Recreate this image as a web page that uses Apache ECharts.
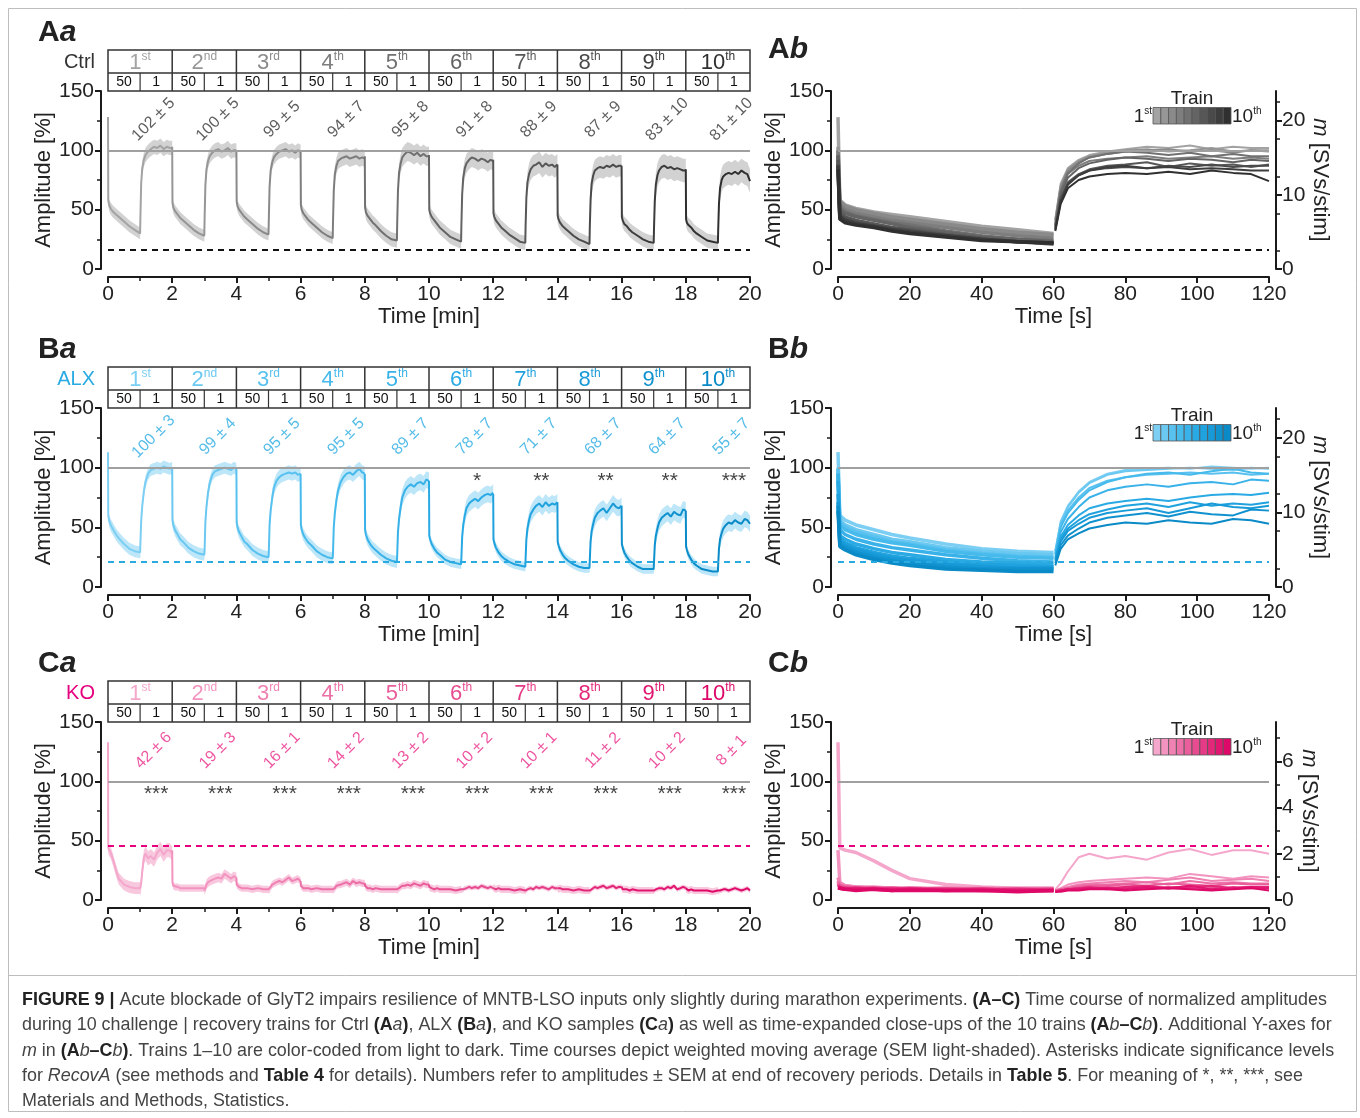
<!DOCTYPE html>
<html><head><meta charset="utf-8">
<script src="https://cdn.jsdelivr.net/npm/echarts/dist/echarts.min.js"></script>
<style>html,body{margin:0;padding:0;background:#fff}#c{width:1360px;height:1118px}</style>
</head><body><div id="c"></div><script>
// ---------------- DATA ----------------
const trainNums = ['1','2','3','4','5','6','7','8','9','10'];
const trainSuffix = ['st','nd','rd','th','th','th','th','th','th','th'];
// sample times within each train (s): challenge 50 Hz, recovery 1 Hz
const chalTimes = [0, 0.5, 2, 5, 10, 15, 20, 30, 40, 50, 60];
const recTimes = [60.5, 62, 64, 67, 70, 75, 80, 86, 92, 98, 104, 110, 115, 120];

// Ctrl
const ctrlChal = [
 [128, 58, 54, 51, 48, 46, 44, 40, 36, 33, 30],
 [103, 56, 52, 49, 46, 43, 41, 37, 33, 30, 28],
 [100, 57, 53, 50, 47, 44, 42, 38, 34, 31, 29],
 [100, 54, 50, 47, 44, 41, 39, 35, 31, 28, 26],
 [95, 52, 48, 45, 42, 39, 37, 32, 28, 25, 24],
 [96, 50, 47, 44, 41, 38, 35, 31, 27, 25, 23],
 [92, 47, 44, 41, 38, 35, 33, 29, 26, 23, 22],
 [88, 45, 42, 39, 36, 34, 32, 28, 25, 23, 21],
 [87, 44, 41, 38, 36, 33, 31, 28, 25, 23, 22],
 [84, 42, 39, 37, 35, 32, 30, 27, 24, 23, 22]];
const ctrlRec = [
 [42, 72, 85, 92, 96, 99, 101, 103, 102, 104, 101, 103, 102, 102],
 [41, 70, 84, 91, 95, 98, 100, 101, 99, 100, 102, 99, 100, 100],
 [40, 69, 83, 90, 94, 97, 99, 100, 101, 99, 100, 98, 100, 99],
 [38, 66, 80, 87, 91, 93, 94, 95, 93, 94, 95, 93, 94, 93],
 [37, 66, 81, 89, 94, 97, 99, 98, 96, 98, 95, 97, 95, 95],
 [36, 63, 77, 85, 89, 92, 94, 93, 91, 93, 92, 90, 92, 91],
 [35, 60, 73, 80, 84, 87, 88, 90, 86, 89, 87, 88, 86, 88],
 [34, 58, 72, 79, 83, 85, 86, 85, 87, 86, 88, 86, 87, 87],
 [33, 57, 71, 79, 83, 86, 87, 85, 86, 84, 85, 84, 83, 83],
 [32, 55, 68, 75, 78, 80, 81, 80, 82, 80, 83, 81, 80, 74]];
const ctrlChalSem = [5, 5, 5, 5, 6, 6, 6, 6, 6, 6];
const ctrlRecSem = [6, 6, 6, 7, 8, 8, 9, 9, 10, 10];
const ctrlEndMean = [102, 100, 99, 94, 95, 91, 88, 87, 83, 81];
const ctrlEndSem = [5, 5, 5, 7, 8, 8, 9, 9, 10, 10];
const ctrlSig = ['', '', '', '', '', '', '', '', '', ''];
const ctrlDashLevel = 16;

// ALX
const alxChal = [
 [113, 60, 56, 52, 48, 44, 41, 36, 32, 30, 29],
 [100, 56, 52, 48, 44, 40, 38, 33, 30, 28, 27],
 [99, 54, 50, 46, 42, 38, 36, 31, 28, 26, 25],
 [95, 52, 48, 44, 40, 37, 35, 30, 27, 25, 24],
 [95, 48, 44, 40, 36, 33, 31, 27, 24, 22, 21],
 [89, 43, 40, 36, 32, 29, 27, 23, 21, 20, 19],
 [78, 40, 37, 33, 29, 26, 24, 21, 19, 18, 17],
 [71, 38, 35, 31, 27, 24, 22, 19, 17, 16, 16],
 [68, 36, 33, 29, 25, 22, 20, 17, 15, 15, 15],
 [64, 34, 31, 27, 23, 20, 18, 15, 14, 13, 13]];
const alxRec = [
 [30, 55, 68, 80, 88, 95, 98, 99, 100, 99, 101, 100, 99, 100],
 [30, 54, 67, 79, 87, 94, 97, 98, 99, 100, 99, 98, 100, 99],
 [28, 52, 64, 75, 83, 89, 92, 94, 95, 96, 95, 96, 94, 95],
 [28, 50, 62, 73, 81, 88, 92, 95, 96, 94, 97, 99, 96, 95],
 [26, 46, 57, 67, 75, 81, 84, 86, 84, 87, 88, 86, 90, 89],
 [24, 42, 52, 60, 66, 70, 72, 74, 72, 75, 77, 78, 77, 79],
 [23, 40, 49, 56, 61, 65, 68, 70, 67, 71, 68, 70, 69, 71],
 [22, 38, 47, 53, 58, 62, 64, 66, 62, 66, 70, 67, 66, 68],
 [20, 35, 43, 49, 54, 58, 60, 62, 59, 63, 61, 60, 65, 64],
 [18, 32, 40, 45, 49, 52, 54, 53, 56, 54, 53, 57, 56, 53]];
const alxChalSem = [5, 5, 5, 5, 5, 4, 4, 4, 4, 4];
const alxRecSem = [5, 5, 6, 6, 7, 7, 7, 7, 7, 7];
const alxEndMean = [100, 99, 95, 95, 89, 78, 71, 68, 64, 55];
const alxEndSem = [3, 4, 5, 5, 7, 7, 7, 7, 7, 7];
const alxSig = ['', '', '', '', '', '*', '**', '**', '**', '***'];
const alxDashLevel = 21;

// KO
const koChal = [
 [133, 44, 42, 40, 33, 25, 18, 13, 11, 10, 10],
 [42, 15, 12, 11, 11, 10, 10, 10, 10, 10, 10],
 [19, 13, 12, 11, 10, 10, 10, 9, 10, 9, 9],
 [16, 12, 11, 10, 10, 10, 9, 10, 9, 9, 9],
 [14, 12, 11, 10, 10, 9, 10, 9, 9, 9, 9],
 [13, 11, 10, 10, 9, 10, 9, 9, 9, 8, 9],
 [10, 10, 10, 9, 10, 9, 9, 9, 8, 9, 8],
 [10, 10, 9, 10, 9, 9, 9, 8, 9, 8, 8],
 [11, 10, 9, 9, 9, 8, 9, 8, 8, 8, 8],
 [10, 9, 9, 8, 9, 8, 8, 8, 8, 7, 8]];
const koRec = [
 [9, 14, 24, 36, 39, 35, 37, 34, 40, 43, 38, 42, 42, 39],
 [8, 10, 13, 15, 16, 17, 18, 19, 18, 22, 20, 18, 20, 19],
 [8, 9, 11, 13, 14, 15, 16, 15, 17, 19, 16, 17, 18, 16],
 [8, 9, 10, 12, 13, 13, 14, 15, 13, 16, 14, 15, 14, 14],
 [8, 9, 10, 11, 12, 12, 13, 12, 14, 13, 12, 14, 13, 13],
 [8, 8, 9, 10, 10, 11, 10, 11, 10, 12, 11, 10, 11, 10],
 [7, 8, 9, 10, 10, 9, 11, 10, 11, 10, 9, 11, 10, 10],
 [7, 8, 9, 10, 11, 10, 11, 12, 10, 11, 12, 10, 11, 11],
 [7, 8, 9, 9, 10, 10, 9, 11, 10, 12, 9, 10, 11, 10],
 [7, 7, 8, 8, 9, 9, 8, 9, 10, 9, 8, 9, 10, 8]];
const koChalSem = [5, 3, 3, 3, 3, 3, 3, 3, 3, 3];
const koRecSem = [6, 4, 3, 3, 3, 2, 2, 2, 2, 2];
const koEndMean = [42, 19, 16, 14, 13, 10, 10, 11, 10, 8];
const koEndSem = [6, 3, 1, 2, 2, 2, 1, 2, 2, 1];
const koSig = ['***', '***', '***', '***', '***', '***', '***', '***', '***', '***'];
const koDashLevel = 46;

// right axis (m) ranges and ticks
const mMaxAB = 24, mTicksAB = [0, 10, 20];
const mMaxC = 7.7, mTicksC = [0, 2, 4, 6];

// ---------------- STYLE ----------------
const FONT = '"Liberation Sans", Arial, Helvetica, sans-serif';
const AX = '#1a1a1a';
const ctrlColors = ['#a3a3a3','#969696','#8a8a8a','#7e7e7e','#717171','#646464','#575757','#4a4a4a','#3d3d3d','#303030'];
const alxColors = ['#7ccff3','#6ac8f1','#58c1ef','#47baec','#38b2e8','#2aaae4','#1fa2de','#179ad7','#1092cf','#0a8ac6'];
const koColors = ['#f4a6cb','#f294bf','#ef82b3','#ec70a7','#e95e9b','#e74c90','#e53a85','#e3287a','#e11670','#de0868'];

const conds = [
 {name:'Ctrl', nameColor:'#333', chal:ctrlChal, rec:ctrlRec, chalSem:ctrlChalSem, recSem:ctrlRecSem,
  endMean:ctrlEndMean, endSem:ctrlEndSem, sig:ctrlSig, dash:ctrlDashLevel, dashColor:'#111',
  colors:ctrlColors, band:'#d2d2d2', annColor:'#333', mMax:mMaxAB, mTicks:mTicksAB},
 {name:'ALX', nameColor:'#29abe2', chal:alxChal, rec:alxRec, chalSem:alxChalSem, recSem:alxRecSem,
  endMean:alxEndMean, endSem:alxEndSem, sig:alxSig, dash:alxDashLevel, dashColor:'#29abe2',
  colors:alxColors, band:'#bde6f8', annColor:'#29abe2', mMax:mMaxAB, mTicks:mTicksAB},
 {name:'KO', nameColor:'#e6007e', chal:koChal, rec:koRec, chalSem:koChalSem, recSem:koRecSem,
  endMean:koEndMean, endSem:koEndSem, sig:koSig, dash:koDashLevel, dashColor:'#e6007e',
  colors:koColors, band:'#f8c8de', annColor:'#ea2a88', mMax:mMaxC, mTicks:mTicksC}
];

const ROW_TOP = [91, 408, 722];
const ROW_H = [178, 179, 178];
const LEFT_A = 108, WIDTH_A = 642, LEFT_B = 838, WIDTH_B = 431;

const grids = [], xAxes = [], yAxes = [], series = [], graphics = [];

function axisCommon() {
  return {
    axisLine: {show: true, onZero: false, lineStyle: {color: AX, width: 2}},
    axisTick: {show: true, inside: false, length: 6, lineStyle: {color: AX, width: 2}},
    axisLabel: {show: true, fontSize: 21, color: '#222', fontFamily: FONT, margin: 7},
    splitLine: {show: false}, minorSplitLine: {show: false},
    nameTextStyle: {fontSize: 22, color: '#222', fontFamily: FONT}
  };
}

conds.forEach((c, r) => {
  const top = ROW_TOP[r], h = ROW_H[r];
  grids.push({left: LEFT_A, top: top, width: WIDTH_A, height: h, outerBoundsMode: 'none', containLabel: false});
  grids.push({left: LEFT_B, top: top, width: WIDTH_B, height: h, outerBoundsMode: 'none', containLabel: false});
  const ga = 2 * r, gb = 2 * r + 1;
  xAxes.push(Object.assign(axisCommon(), {gridIndex: ga, type: 'value', min: 0, max: 20, interval: 2, offset: 8,
    name: 'Time [min]', nameLocation: 'middle', nameGap: 26,
    minorTick: {show: true, splitNumber: 2, length: 4, lineStyle: {color: AX, width: 1.5}}}));
  xAxes.push(Object.assign(axisCommon(), {gridIndex: gb, type: 'value', min: 0, max: 120, interval: 20, offset: 8,
    name: 'Time [s]', nameLocation: 'middle', nameGap: 26}));
  [ga, gb].forEach(g => {
    yAxes[g] = Object.assign(axisCommon(), {gridIndex: g, type: 'value', position: 'left', min: 0, max: 150, interval: 50, offset: 7,
      name: 'Amplitude [%]', nameLocation: 'middle', nameGap: 37, nameRotate: 90,
      minorTick: {show: true, splitNumber: 2, length: 4, lineStyle: {color: AX, width: 1.5}}});
  });
});
conds.forEach((c, r) => {
  const gb = 2 * r + 1;
  const ax = axisCommon();
  ax.axisTick.customValues = c.mTicks;
  ax.axisLabel.customValues = c.mTicks;
  ax.axisLabel.margin = 6;
  ax.nameTextStyle.rich = {i: {fontStyle: 'italic', fontSize: 22, fontFamily: FONT, color: '#222'}};
  yAxes[6 + r] = Object.assign(ax, {gridIndex: gb, type: 'value', position: 'right', min: 0, max: c.mMax, offset: 7,
    name: '{i|m} [SVs/stim]', nameLocation: 'middle', nameGap: 22, nameRotate: -90,
    minorTick: {show: true, splitNumber: 2, length: 4, lineStyle: {color: AX, width: 1.5}}});
});

function refLines(c) {
  return {silent: true, symbol: 'none', label: {show: false}, animation: false,
    data: [
      {yAxis: 100, lineStyle: {color: '#a0a0a0', width: 2, type: 'solid'}},
      {yAxis: c.dash, lineStyle: {color: c.dashColor, width: 2, type: [6, 5]}}
    ]};
}

conds.forEach((c, r) => {
  const ga = 2 * r, gb = 2 * r + 1;
  // overview: SEM bands (polygon through the axis scales)
  for (let i = 0; i < 10; i++) {
    const band = chalTimes.map((t, k) => [2 * i + t / 60, c.chal[i][k] - c.chalSem[i], c.chal[i][k] + c.chalSem[i]])
      .concat(recTimes.map((t, k) => [2 * i + t / 60, c.rec[i][k] - c.recSem[i], c.rec[i][k] + c.recSem[i]]));
    const fill = c.band;
    series.push({type: 'custom', xAxisIndex: ga, yAxisIndex: ga, silent: true, z: 1, clip: true,
      encode: {x: 0, y: [1, 2]}, data: band,
      renderItem: (params, api) => {
        if (params.dataIndex !== 0) return null;
        const up = band.map(p => api.coord([p[0], Math.min(p[2], 150)]));
        const lo = band.map(p => api.coord([p[0], Math.max(p[1], 0)])).reverse();
        return {type: 'polygon', shape: {points: up.concat(lo)}, style: {fill: fill}};
      }});
  }
  // overview: mean lines
  for (let i = 0; i < 10; i++) {
    const pts = chalTimes.map((t, k) => [2 * i + t / 60, c.chal[i][k]])
      .concat(recTimes.map((t, k) => [2 * i + t / 60, c.rec[i][k]]));
    const s = {type: 'line', xAxisIndex: ga, yAxisIndex: ga, data: pts, symbol: 'none', silent: true, z: 3,
      lineStyle: {color: c.colors[i], width: 2}};
    if (i === 0) s.markLine = refLines(c);
    series.push(s);
  }
  // annotations: end-of-recovery amplitude ± SEM
  series.push({type: 'scatter', xAxisIndex: ga, yAxisIndex: ga, symbolSize: 0, silent: true, z: 5,
    data: c.endMean.map((m, i) => ({value: [2 * i + 1.42, 126], name: m + ' ± ' + c.endSem[i]})),
    label: {show: true, position: 'inside', rotate: 45, formatter: '{b}', fontSize: 16, color: c.annColor, fontFamily: FONT}});
  // significance asterisks
  series.push({type: 'scatter', xAxisIndex: ga, yAxisIndex: ga, symbolSize: 0, silent: true, z: 5,
    data: c.sig.map((s, i) => ({value: [2 * i + 1.5, 89], name: s})),
    label: {show: true, position: 'inside', formatter: '{b}', fontSize: 21, color: '#111', fontFamily: FONT}});
  // close-ups: each train over 0-120 s
  for (let i = 0; i < 10; i++) {
    const s = {type: 'line', xAxisIndex: gb, yAxisIndex: gb, data: chalTimes.map((t, k) => [t, c.chal[i][k]]),
      symbol: 'none', silent: true, z: 3, lineStyle: {color: c.colors[i], width: 3.5}};
    if (i === 0) s.markLine = refLines(c);
    series.push(s);
    series.push({type: 'line', xAxisIndex: gb, yAxisIndex: gb, data: recTimes.map((t, k) => [t, c.rec[i][k]]),
      symbol: 'none', silent: true, z: 3, lineStyle: {color: c.colors[i], width: 2}});
  }
});

// ---------------- GRAPHICS ----------------
const supRich = (size, col) => ({
  n: {fontSize: size, fontFamily: FONT, fill: col, lineHeight: size + 2},
  s: {fontSize: Math.round(size * 0.55), fontFamily: FONT, fill: col, lineHeight: Math.round(size * 0.6), verticalAlign: 'top'}
});

conds.forEach((c, r) => {
  const top = ROW_TOP[r];
  const tTop = top - 41, tMid = top - 18, tBot = top;
  const unit = WIDTH_A / 20;
  graphics.push({type: 'rect', shape: {x: LEFT_A, y: tTop, width: WIDTH_A, height: 41},
    style: {fill: 'none', stroke: '#333', lineWidth: 1.5}, silent: true});
  graphics.push({type: 'line', shape: {x1: LEFT_A, y1: tMid, x2: LEFT_A + WIDTH_A, y2: tMid},
    style: {stroke: '#333', lineWidth: 1.5}, silent: true});
  for (let i = 0; i < 10; i++) {
    const x0 = LEFT_A + 2 * i * unit;
    if (i > 0) graphics.push({type: 'line', shape: {x1: x0, y1: tTop, x2: x0, y2: tBot}, style: {stroke: '#333', lineWidth: 1.5}, silent: true});
    graphics.push({type: 'line', shape: {x1: x0 + unit, y1: tMid, x2: x0 + unit, y2: tBot}, style: {stroke: '#333', lineWidth: 1.2}, silent: true});
    graphics.push({type: 'text', x: x0 + unit, y: (tTop + tMid) / 2 + 1, silent: true,
      style: {text: '{n|' + trainNums[i] + '}{s|' + trainSuffix[i] + '}', rich: supRich(22, c.colors[i]), align: 'center', verticalAlign: 'middle'}});
    graphics.push({type: 'text', x: x0 + unit / 2, y: (tMid + tBot) / 2 + 0.5, silent: true,
      style: {text: '50', fontSize: 14, fontFamily: FONT, fill: '#111', align: 'center', verticalAlign: 'middle'}});
    graphics.push({type: 'text', x: x0 + unit * 1.5, y: (tMid + tBot) / 2 + 0.5, silent: true,
      style: {text: '1', fontSize: 14, fontFamily: FONT, fill: '#111', align: 'center', verticalAlign: 'middle'}});
  }
  graphics.push({type: 'text', x: 95, y: (tTop + tMid) / 2 + 1, silent: true,
    style: {text: c.name, fontSize: 20, fontFamily: FONT, fill: c.nameColor, align: 'right', verticalAlign: 'middle'}});
  // legend in close-up
  const lx = 1153, ly = top + 16.5, lw = 7.8, lh = 16.5;
  for (let i = 0; i < 10; i++) {
    graphics.push({type: 'rect', shape: {x: lx + i * lw, y: ly, width: lw, height: lh},
      style: {fill: c.colors[i], stroke: '#555', lineWidth: 0.8}, silent: true});
  }
  graphics.push({type: 'text', x: lx + 5 * lw, y: top + 8, silent: true,
    style: {text: 'Train', fontSize: 19, fontFamily: FONT, fill: '#222', align: 'center', verticalAlign: 'middle'}});
  graphics.push({type: 'text', x: lx - 1, y: ly + lh / 2 + 1, silent: true,
    style: {text: '{n|1}{s|st}', rich: supRich(19, '#222'), align: 'right', verticalAlign: 'middle'}});
  graphics.push({type: 'text', x: lx + 10 * lw + 1, y: ly + lh / 2 + 1, silent: true,
    style: {text: '{n|10}{s|th}', rich: supRich(19, '#222'), align: 'left', verticalAlign: 'middle'}});
});

const panelRich = {
  b: {fontSize: 30, fontWeight: 'bold', fontFamily: FONT, fill: '#222'},
  bi: {fontSize: 30, fontWeight: 'bold', fontStyle: 'italic', fontFamily: FONT, fill: '#222'}
};
[['A','a',38,33],['A','b',768,50],['B','a',38,350],['B','b',768,350],['C','a',38,664],['C','b',768,664]].forEach(p => {
  graphics.push({type: 'text', x: p[2], y: p[3], silent: true,
    style: {text: '{b|' + p[0] + '}{bi|' + p[1] + '}', rich: panelRich, align: 'left', verticalAlign: 'middle'}});
});

graphics.push({type: 'rect', shape: {x: 8.5, y: 8.5, width: 1348, height: 1103}, style: {fill: 'none', stroke: '#bdbdbd', lineWidth: 1}, silent: true});
graphics.push({type: 'line', shape: {x1: 8.5, y1: 975.5, x2: 1356.5, y2: 975.5}, style: {stroke: '#bdbdbd', lineWidth: 1}, silent: true});
const capLines = [
 '{b|FIGURE 9 |} Acute blockade of GlyT2 impairs resilience of MNTB-LSO inputs only slightly during marathon experiments. {b|(A–C)} Time course of normalized amplitudes',
 'during 10 challenge | recovery trains for Ctrl {b|(A}{i|a}{b|)}, ALX {b|(B}{i|a}{b|)}, and KO samples {b|(C}{i|a}{b|)} as well as time-expanded close-ups of the 10 trains {b|(A}{i|b}{b|–C}{i|b}{b|)}. Additional Y-axes for',
 '{i|m} in {b|(A}{i|b}{b|–C}{i|b}{b|)}. Trains 1–10 are color-coded from light to dark. Time courses depict weighted moving average (SEM light-shaded). Asterisks indicate significance levels',
 'for {i|RecovA} (see methods and {b|Table 4} for details). Numbers refer to amplitudes ± SEM at end of recovery periods. Details in {b|Table 5}. For meaning of *, **, ***, see',
 'Materials and Methods, Statistics.'
];
const CAP_FS = 17.9;
const capRich = {
  b: {fontSize: CAP_FS, fontWeight: 'bold', fontFamily: FONT, fill: '#222'},
  i: {fontSize: CAP_FS, fontStyle: 'italic', fontFamily: FONT, fill: '#444'}
};
capLines.forEach((t, k) => {
  graphics.push({type: 'text', x: 22, y: 1000 + k * 25.3, silent: true,
    style: {text: t, fontSize: CAP_FS, fontFamily: FONT, fill: '#444', rich: capRich, align: 'left', verticalAlign: 'middle'}});
});

const chart = echarts.init(document.getElementById('c'), null, {renderer: 'canvas'});
chart.setOption({
  animation: false,
  backgroundColor: '#fff',
  grid: grids, xAxis: xAxes, yAxis: yAxes, series: series, graphic: graphics
});
</script></body></html>
